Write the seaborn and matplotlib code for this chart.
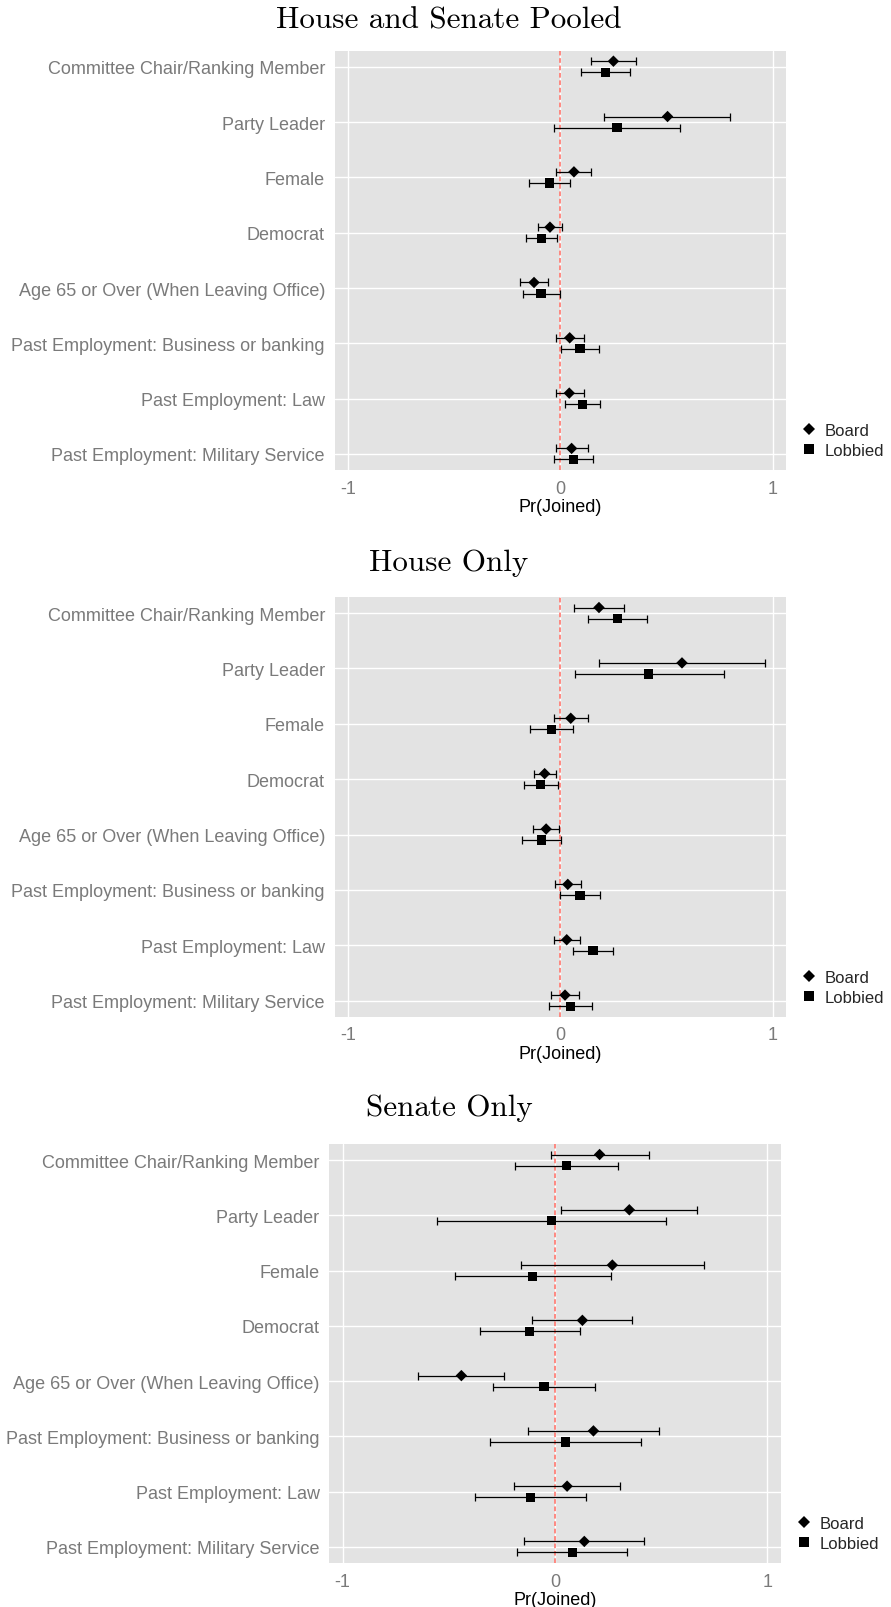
import numpy as np
import pandas as pd
import matplotlib
matplotlib.use("Agg")
import matplotlib.pyplot as plt
import seaborn as sns

# ---- data -----------------------------------------------------------------
categories = [
    "Committee Chair/Ranking Member",
    "Party Leader",
    "Female",
    "Democrat",
    "Age 65 or Over (When Leaving Office)",
    "Past Employment: Business or banking",
    "Past Employment: Law",
    "Past Employment: Military Service",
]
outcomes = ["Board", "Lobbied"]
titles = ["House and Senate Pooled", "House Only", "Senate Only"]

pooled_board_est = [0.250, 0.505, 0.064, -0.049, -0.124, 0.044, 0.042, 0.053]
pooled_board_lo = [0.143, 0.205, -0.020, -0.105, -0.191, -0.020, -0.020, -0.020]
pooled_board_hi = [0.358, 0.798, 0.146, 0.006, -0.056, 0.110, 0.110, 0.129]
pooled_lobby_est = [0.212, 0.267, -0.050, -0.089, -0.091, 0.093, 0.105, 0.061]
pooled_lobby_lo = [0.096, -0.031, -0.147, -0.163, -0.176, 0.003, 0.022, -0.031]
pooled_lobby_hi = [0.326, 0.565, 0.045, -0.014, -0.003, 0.182, 0.188, 0.155]

house_board_est = [0.182, 0.573, 0.049, -0.074, -0.067, 0.035, 0.030, 0.022]
house_board_lo = [0.066, 0.180, -0.031, -0.125, -0.129, -0.027, -0.031, -0.042]
house_board_hi = [0.300, 0.966, 0.129, -0.022, -0.006, 0.097, 0.093, 0.086]
house_lobby_est = [0.268, 0.417, -0.042, -0.093, -0.088, 0.093, 0.154, 0.049]
house_lobby_lo = [0.130, 0.067, -0.143, -0.171, -0.179, 0.000, 0.060, -0.053]
house_lobby_hi = [0.408, 0.769, 0.058, -0.013, 0.005, 0.185, 0.246, 0.151]

senate_board_est = [0.210, 0.350, 0.270, 0.129, -0.441, 0.181, 0.057, 0.138]
senate_board_lo = [-0.020, 0.030, -0.160, -0.107, -0.645, -0.127, -0.192, -0.144]
senate_board_hi = [0.441, 0.669, 0.702, 0.363, -0.239, 0.490, 0.305, 0.419]
senate_lobby_est = [0.055, -0.017, -0.105, -0.119, -0.052, 0.049, -0.115, 0.082]
senate_lobby_lo = [-0.188, -0.557, -0.471, -0.353, -0.292, -0.305, -0.375, -0.177]
senate_lobby_hi = [0.297, 0.524, 0.264, 0.119, 0.190, 0.405, 0.148, 0.338]

panel_data = [
    (pooled_board_est, pooled_board_lo, pooled_board_hi,
     pooled_lobby_est, pooled_lobby_lo, pooled_lobby_hi),
    (house_board_est, house_board_lo, house_board_hi,
     house_lobby_est, house_lobby_lo, house_lobby_hi),
    (senate_board_est, senate_board_lo, senate_board_hi,
     senate_lobby_est, senate_lobby_lo, senate_lobby_hi),
]

# ---- style ------------------------------------------------------------------
W, H = 891, 1608
sns.set_style("white")
plt.rcParams["font.family"] = ["Liberation Sans", "DejaVu Sans"]

PANEL_BG = "#E3E3E3"
TICK_GREY = "#7A7A7A"
ZERO_RED = "#FF8078"
DODGE = 0.1

# axes rectangles in pixels: left, top, right, bottom
axes_px = [
    (334.7, 51.7, 786.0, 471.0),
    (334.7, 598.0, 786.0, 1017.7),
    (329.3, 1145.0, 780.7, 1564.0),
]
title_y_px = [21.0, 563.0, 1108.0]

fig = plt.figure(figsize=(W / 100, H / 100), dpi=100)

for title, (l, t, r, b), ty, vals in zip(titles, axes_px, title_y_px, panel_data):
    b_est, b_lo, b_hi, l_est, l_lo, l_hi = vals
    codes = np.arange(len(categories))
    df = pd.concat([
        pd.DataFrame({"variable": categories, "outcome": "Board",
                      "est": b_est, "lo": b_lo, "hi": b_hi,
                      "ypos": codes - DODGE}),
        pd.DataFrame({"variable": categories, "outcome": "Lobbied",
                      "est": l_est, "lo": l_lo, "hi": l_hi,
                      "ypos": codes + DODGE}),
    ], ignore_index=True)

    ax = fig.add_axes([l / W, 1 - b / H, (r - l) / W, (b - t) / H])
    ax.set_facecolor(PANEL_BG)
    for s in ax.spines.values():
        s.set_visible(False)

    ax.set_xlim(-1.063, 1.063)
    ax.set_ylim(len(categories) - 1 + 0.29, -0.29)
    ax.set_xticks([-1, 0, 1])
    ax.set_xticklabels(["-1", "0", "1"])
    ax.set_yticks(codes)
    ax.set_yticklabels(categories)
    ax.grid(True, color="white", linewidth=1.0)
    ax.set_axisbelow(True)

    ax.axvline(0, color=ZERO_RED, linewidth=1.3, linestyle=(0, (2.6, 1.5)), zorder=1.5)

    ax.errorbar(df["est"], df["ypos"],
                xerr=[df["est"] - df["lo"], df["hi"] - df["est"]],
                fmt="none", ecolor="black", elinewidth=0.9,
                capsize=2.8, capthick=0.9, zorder=2)

    sns.scatterplot(data=df, x="est", y="ypos", style="outcome", size="outcome",
                    markers={"Board": "D", "Lobbied": "s"},
                    sizes={"Board": 34, "Lobbied": 44},
                    color="black", edgecolor="black", linewidth=0,
                    ax=ax, zorder=3, legend="full")

    ax.tick_params(axis="both", colors=TICK_GREY, length=5, width=0.9,
                   labelsize=13, pad=2, labelcolor=TICK_GREY)
    ax.set_ylabel("")
    ax.set_xlabel("Pr(Joined)", fontsize=13, color="black", labelpad=1)

    width_px = r - l
    height_px = b - t
    sns.move_legend(ax, "lower left",
                    bbox_to_anchor=(1 + 18 / width_px, 11.7 / height_px),
                    frameon=False, title=None, fontsize=12,
                    handlelength=0.6, handletextpad=0.66,
                    labelspacing=0.3, borderaxespad=0, borderpad=0)

    fig.text(449 / W, 1 - ty / H, title, family="cmr10", fontsize=22.4,
             ha="center", va="center", color="black")

fig.savefig("out.png", dpi=100)
